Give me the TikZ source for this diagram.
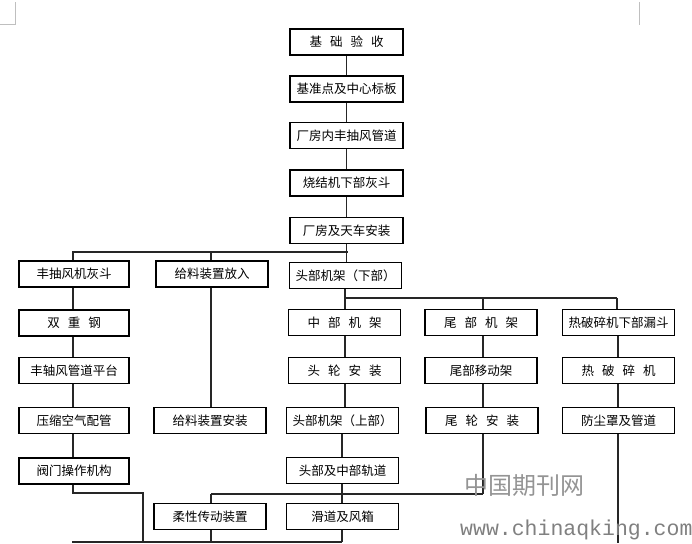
\documentclass[tikz,border=0pt]{standalone}
\usepackage{fontspec}
\newfontfamily\cjk{Noto Sans CJK SC}
\newfontfamily\wmmono{Liberation Mono}
\newcommand{\gp}{\hspace{8pt}}
\begin{document}
\begin{tikzpicture}[x=1pt,y=-1pt,
  box/.style={draw=black, line width=1.8pt, fill=white, minimum height=26pt, inner sep=0pt,
    font=\cjk\fontsize{12.5}{13}\selectfont},
  wa/.style={minimum width=110pt},
  wb/.style={minimum width=112pt},
  wc/.style={minimum width=112pt},
  ln/.style={line width=1.5pt, draw=black!85},
  cornermark/.style={draw=black!25, line width=1pt}]
\useasboundingbox (0,0) rectangle (692,543);
% page corner marks
\draw[cornermark] (0,25) -- (15,25) -- (15,2);
\draw[cornermark] (639,2) -- (639,25);

% centre chain
\node[box, minimum width=113pt] (n1) at (346.5,42) {基\gp{}础\gp{}验\gp{}收};
\node[box, minimum width=113pt] (n2) at (346.5,89) {基准点及中心标板};
\node[box, minimum width=113pt] (n3) at (346.5,135.5) {厂房内丰抽风管道};
\node[box, minimum width=113pt] (n4) at (346.5,183) {烧结机下部灰斗};
\node[box, minimum width=113pt] (n5) at (346.5,230.5) {厂房及天车安装};

% row A
\node[box, wa] (a1) at (74,274) {丰抽风机灰斗};
\node[box, wb] (a2) at (212,274) {给料装置放入};
\node[box, wc] (a3) at (345.5,275.5) {头部机架（下部）};

% row B
\node[box, wa] (b1) at (74,323) {双\gp{}重\gp{}钢};
\node[box, wc] (b3) at (344.5,322.5) {中\gp{}部\gp{}机\gp{}架};
\node[box, wb] (b4) at (481,322.5) {尾\gp{}部\gp{}机\gp{}架};
\node[box, wc] (b5) at (618.5,322.5) {热破碎机下部漏斗};

% row C
\node[box, wa] (c1) at (74,370.5) {丰轴风管道平台};
\node[box, wc] (c3) at (344.5,370.5) {头\gp{}轮\gp{}安\gp{}装};
\node[box, wb] (c4) at (481,370.5) {尾部移动架};
\node[box, wc] (c5) at (618.5,370.5) {热\gp{}破\gp{}碎\gp{}机};

% row D
\node[box, wa] (d1) at (74,420.5) {压缩空气配管};
\node[box, wb] (d2) at (210,420.5) {给料装置安装};
\node[box, wc] (d3) at (342.5,420.5) {头部机架（上部）};
\node[box, wb] (d4) at (482,420.5) {尾\gp{}轮\gp{}安\gp{}装};
\node[box, wc] (d5) at (618.5,420.5) {防尘罩及管道};

% row E
\node[box, wa] (e1) at (74,471) {阀门操作机构};
\node[box, wc] (e3) at (342.5,470.5) {头部及中部轨道};

% row F
\node[box, wb] (f2) at (210,516.5) {柔性传动装置};
\node[box, wc] (f3) at (342.5,516.5) {滑道及风箱};

% junction coordinates
\coordinate (jA) at (348,252);
\coordinate (jB) at (345,298);
\coordinate (jBr) at (617,298);
\coordinate (jF) at (342,494);
\coordinate (jFl) at (211,494);
\coordinate (jFr) at (483,494);
\coordinate (jE1) at (73,493);
\coordinate (jE2) at (143,493);
\coordinate (jG) at (143,542);
\coordinate (jGl) at (72,542);
\coordinate (jGr) at (342,542);
\coordinate (jH) at (618,543);

% centre chain connectors
\draw[ln] (n1.south) -- (n1.south |- n2.north);
\draw[ln] (n2.south) -- (n2.south |- n3.north);
\draw[ln] (n3.south) -- (n3.south |- n4.north);
\draw[ln] (n4.south) -- (n4.south |- n5.north);
\draw[ln] (n5.south) -- (n5.south |- a3.north);
\draw[ln] (a1.north -| jE1) |- (jA);
\draw[ln] (a2.north -| jFl) -- (jFl |- jA);

% left column
\draw[ln] (a1.south -| jE1) -- (b1.north -| jE1);
\draw[ln] (b1.south -| jE1) -- (c1.north -| jE1);
\draw[ln] (c1.south -| jE1) -- (d1.north -| jE1);
\draw[ln] (d1.south -| jE1) -- (e1.north -| jE1);
\draw[ln] (e1.south -| jE1) -- (jE1) -- (jE2) -- (jG);
\draw[ln] (jGl) -- (jGr);

% feeder
\draw[ln] (a2.south -| jFl) -- (d2.north -| jFl);

% head branch
\draw[ln] (a3.south -| jB) -- (jB) -- (jBr);
\draw[ln] (jB) -- (b3.north -| jB);
\draw[ln] (jFr |- jB) -- (b4.north -| jFr);
\draw[ln] (jBr) -- (b5.north -| jBr);

% middle column
\draw[ln] (b3.south -| jB) -- (c3.north -| jB);
\draw[ln] (c3.south -| jB) -- (d3.north -| jB);
\draw[ln] (d3.south -| jF) -- (e3.north -| jF);
\draw[ln] (e3.south -| jF) -- (jF);
\draw[ln] (jF) -- (f3.north -| jF);
\draw[ln] (jFl) -- (jFr);
\draw[ln] (jFl) -- (f2.north -| jFl);
\draw[ln] (f2.south -| jFl) -- (jFl |- jG);
\draw[ln] (f3.south -| jF) -- (jGr);

% tail column
\draw[ln] (b4.south -| jFr) -- (c4.north -| jFr);
\draw[ln] (c4.south -| jFr) -- (d4.north -| jFr);
\draw[ln] (d4.south -| jFr) -- (jFr);

% crusher column
\draw[ln] (b5.south -| jH) -- (c5.north -| jH);
\draw[ln] (c5.south -| jH) -- (d5.north -| jH);
\draw[ln] (d5.south -| jH) -- (jH);

% watermark
\node[anchor=west, inner sep=0pt, text=black!42, font=\cjk\fontsize{24}{24}\selectfont] (wm1) at (464,485) {中国期刊网};
\node[anchor=base west, inner sep=0pt, text=black!50, font=\wmmono\fontsize{21.5}{22}\selectfont] (wm2) at (460,535) {www.chinaqking.com};
\end{tikzpicture}
\end{document}
